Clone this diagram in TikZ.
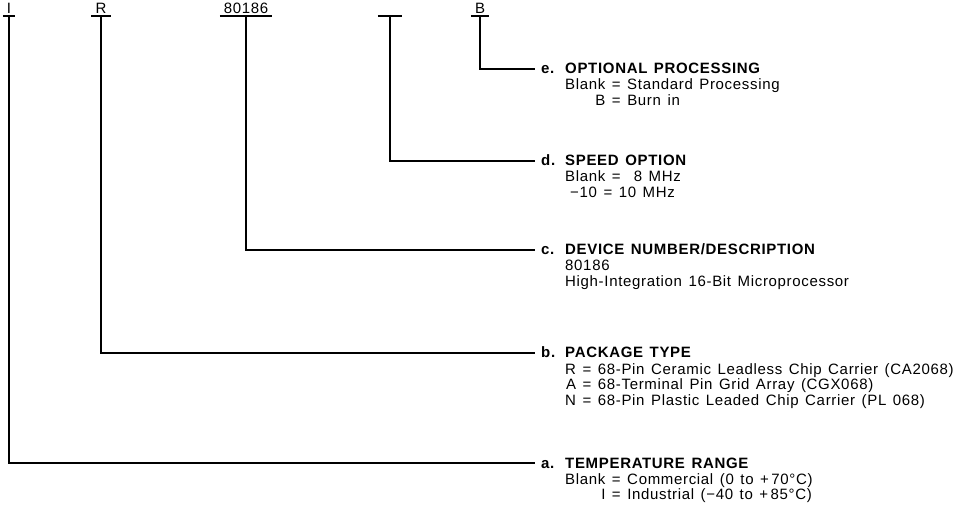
\documentclass[tikz,border=0pt]{standalone}
\usepackage{fontspec}
\setmainfont{Liberation Sans}[LetterSpace=4.5, WordSpace=1.35]
\usetikzlibrary{positioning,calc}

\begin{document}
\begin{tikzpicture}[
    x=1pt, y=-1pt,
    every node/.style={font=\fontsize{15}{15.5}\selectfont},
    code/.style={anchor=south, inner xsep=0pt, inner ysep=2pt, text height=10pt, text depth=0pt},
    title/.style={anchor=west, inner xsep=6pt, inner ysep=0pt, text height=10pt, text depth=0pt, font=\fontsize{15}{15.5}\selectfont\bfseries},
    body/.style={anchor=base west, inner sep=0pt},
    line/.style={draw, line width=1.3pt}
]
\useasboundingbox (0,0) rectangle (958,510);

% Order code fields
\node [code, minimum width=12pt] (codeI) at (9,16) {I};
\node [code, minimum width=19pt] (codeR) at (101,16) {R};
\node [code, minimum width=52pt] (codeDev) at (246,16) {80186};
\node [code, minimum width=24pt] (codeSpeed) at (390,16) {};
\node [code, minimum width=18pt] (codeB) at (480,16) {B};

% Field titles
\node [title] (titleE) at (535,69) {\makebox[24pt][l]{e.}OPTIONAL PROCESSING};
\node [title] (titleD) at (535,161) {\makebox[24pt][l]{d.}SPEED OPTION};
\node [title] (titleC) at (535,250) {\makebox[24pt][l]{c.}DEVICE NUMBER/DESCRIPTION};
\node [title] (titleB) at (535,353) {\makebox[24pt][l]{b.}PACKAGE TYPE};
\node [title] (titleA) at (535,463) {\makebox[24pt][l]{a.}TEMPERATURE RANGE};

% Field values
\node [body] (bodyE) at ([xshift=30pt,yshift=-16pt]titleE.base west) {%
    \begin{tabular}[t]{@{}r@{ = }l@{}}
    Blank & Standard Processing\\
    B & Burn in
    \end{tabular}};
\node [body] (bodyD) at ([xshift=30pt,yshift=-16pt]titleD.base west) {%
    \begin{tabular}[t]{@{}l@{}}
    Blank =\ \ 8 MHz\\
    \hspace*{5pt}−10 = 10 MHz
    \end{tabular}};
\node [body] (bodyC) at ([xshift=30pt,yshift=-16pt]titleC.base west) {%
    \begin{tabular}[t]{@{}l@{}}
    80186\\
    High-Integration 16-Bit Microprocessor
    \end{tabular}};
\node [body] (bodyB) at ([xshift=30pt,yshift=-16pt]titleB.base west) {%
    \begin{tabular}[t]{@{}r@{ = }l@{}}
    R & 68-Pin Ceramic Leadless Chip Carrier (CA2068)\\
    A & 68-Terminal Pin Grid Array (CGX068)\\
    N & 68-Pin Plastic Leaded Chip Carrier (PL 068)
    \end{tabular}};
\node [body] (bodyA) at ([xshift=30pt,yshift=-16pt]titleA.base west) {%
    \begin{tabular}[t]{@{}r@{ = }l@{}}
    Blank & Commercial (0 to +\,70°C)\\
    I & Industrial (−40 to +\,85°C)
    \end{tabular}};

% Underlines
\draw [line] (codeI.south west) -- (codeI.south east);
\draw [line] (codeR.south west) -- (codeR.south east);
\draw [line] (codeDev.south west) -- (codeDev.south east);
\draw [line] (codeSpeed.south west) -- (codeSpeed.south east);
\draw [line] (codeB.south west) -- (codeB.south east);

% Leaders from code fields to titles
\draw [line] (codeI.south) |- (titleA.west);
\draw [line] (codeR.south) |- (titleB.west);
\draw [line] (codeDev.south) |- (titleC.west);
\draw [line] (codeSpeed.south) |- (titleD.west);
\draw [line] (codeB.south) |- (titleE.west);

\end{tikzpicture}
\end{document}
